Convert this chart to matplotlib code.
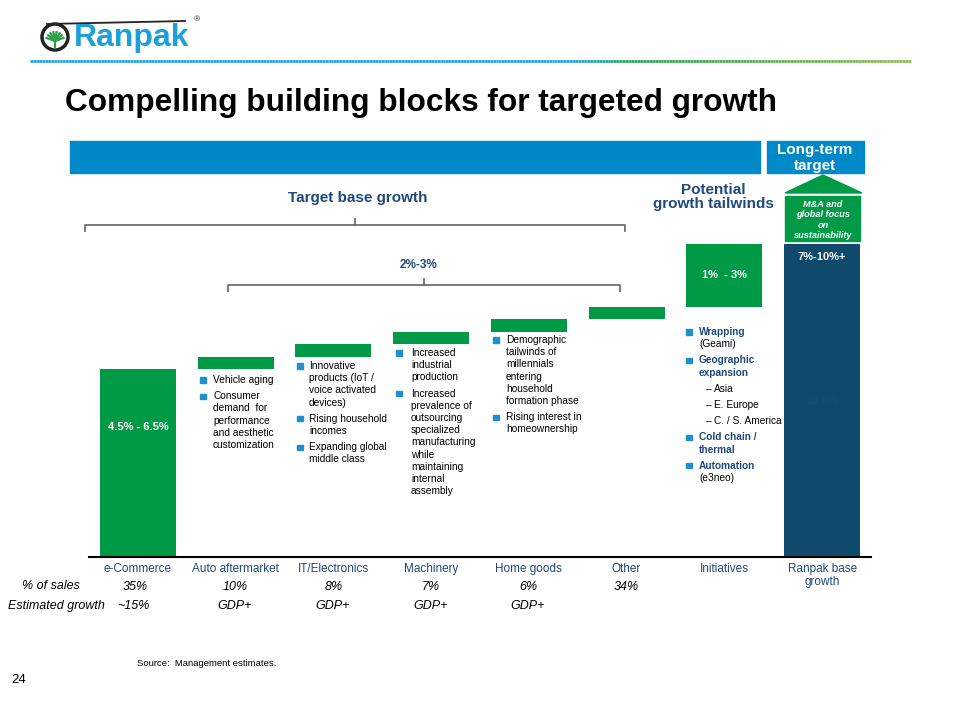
import numpy as np
import matplotlib.pyplot as plt
from matplotlib.patches import Rectangle, Polygon, Circle
from matplotlib.collections import LineCollection
from matplotlib.colors import LinearSegmentedColormap

plt.rcParams['font.family'] = ['Liberation Sans', 'DejaVu Sans']
NARROW = ['Liberation Sans Narrow', 'Liberation Sans', 'DejaVu Sans']

# data
categories = ['e-Commerce', 'Auto aftermarket', 'IT/Electronics', 'Machinery',
              'Home goods', 'Other', 'Initiatives', 'Ranpak base\ngrowth']
steps = [6.0, 0.4, 0.4, 0.4, 0.4, 0.4, 2.0]
total_label = '10.0%'
share_of_sales = ['35%', '10%', '8%', '7%', '6%', '34%', '', '']
est_growth = ['~15%', 'GDP+', 'GDP+', 'GDP+', 'GDP+', '', '', '']
bar_labels = ['4.5% - 6.5%', '', '', '', '', '', '1%  - 3%', '7%-10%+']

GREEN = '#009A46'
NAVY = '#0F4A6C'
BLUE = '#0089C9'
DKBLUE = '#1F497D'
BULLET = '#1F8FCF'

fig = plt.figure(figsize=(9.6, 7.2), dpi=100)

# overlay in pixel coords for slide furniture
ov = fig.add_axes([0, 0, 1, 1])
ov.set_xlim(0, 960)
ov.set_ylim(720, 0)
ov.axis('off')

# chart axes
ax = fig.add_axes([89 / 960, 1 - 557 / 720, 782 / 960, 313 / 720])
ax.set_xlim(-0.5, 7.5)
ax.set_ylim(0, 10)
for s in ['top', 'right', 'left']:
    ax.spines[s].set_visible(False)
ax.spines['bottom'].set_linewidth(1.5)
ax.spines['bottom'].set_color('black')
ax.set_yticks([])
ax.set_xticks([])
ax.patch.set_alpha(0)

x = np.arange(len(categories))
cum = np.concatenate([[0], np.cumsum(steps)])
bottoms = list(cum[:-1]) + [0]
heights = list(steps) + [cum[-1]]
colors = [GREEN] * len(steps) + [NAVY]
ax.bar(x, heights, bottom=bottoms, width=0.78, color=colors)

label_frac = [0.69, 0.5, 0.5, 0.5, 0.5, 0.5, 0.5, 0.96]
for i, lab in enumerate(bar_labels):
    if lab:
        ax.text(x[i], bottoms[i] + heights[i] * label_frac[i], lab, color='white',
                fontsize=8, fontweight='bold', ha='center', va='center')
ax.text(x[-1], heights[-1] / 2, total_label, color='#134E74', fontsize=8,
        fontweight='bold', ha='center', va='center')

# category labels and rows below
for i, c in enumerate(categories):
    ax.text(x[i], -0.2, c, transform=ax.transData, ha='center', va='top',
            fontsize=8.5, color=DKBLUE, family=NARROW, linespacing=1.05)
    ov.text(138 + i * 97.7 - (3 if i == 0 else 0), 587, share_of_sales[i], ha='center',
            va='center', fontsize=9, style='italic', family=NARROW)
    ov.text(133 if i == 0 else 137 + i * 97.7, 606, est_growth[i],
            ha='center', va='center', fontsize=9, style='italic', family=NARROW)
ov.text(22, 586, '% of sales', fontsize=9, style='italic', family=NARROW, va='center')
ov.text(8, 606, 'Estimated growth', fontsize=9, style='italic', family=NARROW, va='center')

# logo
ov.add_patch(Circle((55, 37), 13, facecolor='white', edgecolor='#222222', lw=2.5))
for ang in np.linspace(200, 340, 8):
    a = np.deg2rad(ang)
    ov.plot([55, 55 + 9 * np.cos(a)], [41, 41 + 9 * np.sin(a)], color='#2E9E48', lw=1.6)
ov.plot([55, 55], [36, 48], color='#2E9E48', lw=1.6)
ov.plot([47, 185], [24, 21], color='#222222', lw=1.3)
ov.text(74, 38, 'Ranpak', fontsize=23, fontweight='bold', color='#1BA0DA', va='center')
ov.text(194, 20, '®', fontsize=6, color='#333333', va='center')

# gradient rule
xs = np.linspace(30, 911, 300)
cmap = LinearSegmentedColormap.from_list('rule', [(0, '#2BA7DF'), (0.62, '#2BA7DF'),
                                                  (0.68, '#2EA85A'), (1, '#93BF5A')])
segs = [[(xs[k], 61), (xs[k + 1], 61)] for k in range(len(xs) - 1)]
ov.add_collection(LineCollection(segs, colors=cmap(np.linspace(0, 1, len(segs))), lw=2))

ov.text(65, 103, 'Compelling building blocks for targeted growth', fontsize=22.8,
        fontweight='bold', va='center')

# header bars
ov.add_patch(Rectangle((70, 141), 690, 32, color=BLUE))
ov.add_patch(Rectangle((767, 141), 97, 32, color=BLUE))
ov.text(815, 158, 'Long-term\ntarget', color='white', fontsize=11, fontweight='bold',
        ha='center', va='center', linespacing=1.15)

# arrow + M&A box
ov.add_patch(Polygon([(785, 193), (862, 193), (823, 175)], color=GREEN))
ov.add_patch(Rectangle((785, 196), 75, 45, color=GREEN))
ov.text(823, 220, 'M&A and\nglobal focus\non\nsustainability', color='white', fontsize=6.6,
        fontweight='bold', style='italic', ha='center', va='center', linespacing=1.15)

ov.text(713, 197, 'Potential\ngrowth tailwinds', color=DKBLUE, fontsize=11,
        fontweight='bold', ha='center', va='center', linespacing=1.05)
ov.text(358, 198, 'Target base growth', color=DKBLUE, fontsize=11,
        fontweight='bold', ha='center', va='center')
ov.text(418, 265, '2%-3%', color=DKBLUE, fontsize=8.5, fontweight='bold',
        ha='center', va='center')

# brackets
def bracket(x0, x1, xm, y, drop=6, tick=6):
    ov.plot([x0, x0, x1, x1], [y + drop, y, y, y + drop], color='#6F6F6F', lw=1.3)
    ov.plot([xm, xm], [y, y - tick], color='#6F6F6F', lw=1.3)

bracket(85, 625, 355, 225)
bracket(228, 620, 424, 285)

# bullet blocks
def block(bx, tx, y0, paras, fs=7.3, lh=12.2, gap=4):
    y = y0
    for lines in paras:
        first = True
        for line, kind in lines:
            if first and kind != 'dash':
                ov.add_patch(Rectangle((bx - 2.6, y - 2.6), 5.2, 5.2, color=BULLET))
            if kind == 'dash':
                ov.text(tx + 7, y, '–', fontsize=fs, va='center')
                ov.text(tx + 15, y, line, fontsize=fs, va='center')
            elif kind == 'bold':
                ov.text(tx, y, line, fontsize=fs, va='center', fontweight='bold', color=DKBLUE)
            else:
                ov.text(tx, y, line, fontsize=fs, va='center')
            first = False
            y += lh
        y += gap

N = 'n'
block(203, 213, 380, [[('Vehicle aging', N)],
                      [('Consumer', N), ('demand  for', N), ('performance', N),
                       ('and aesthetic', N), ('customization', N)]])
block(300, 309, 366, [[('Innovative', N), ('products (IoT /', N), ('voice activated', N), ('devices)', N)],
                      [('Rising household', N), ('incomes', N)],
                      [('Expanding global', N), ('middle class', N)]])
block(399, 411, 353, [[('Increased', N), ('industrial', N), ('production', N)],
                      [('Increased', N), ('prevalence of', N), ('outsourcing', N), ('specialized', N),
                       ('manufacturing', N), ('while', N), ('maintaining', N), ('internal', N),
                       ('assembly', N)]])
block(496, 506, 340, [[('Demographic', N), ('tailwinds of', N), ('millennials', N), ('entering', N),
                       ('household', N), ('formation phase', N)],
                      [('Rising interest in', N), ('homeownership', N)]])
block(689, 699, 332, [[('Wrapping', 'bold'), ('(Geami)', N)],
                      [('Geographic', 'bold'), ('expansion', 'bold')],
                      [('Asia', 'dash')], [('E. Europe', 'dash')], [('C. / S. America', 'dash')],
                      [('Cold chain /', 'bold'), ('thermal', 'bold')],
                      [('Automation', 'bold'), ('(e3neo)', N)]])

ov.text(137, 664, 'Source:  Management estimates.', fontsize=6.8, va='center')
ov.text(11, 680, '24', fontsize=9.5, va='center')

fig.savefig('out.png', dpi=100)
